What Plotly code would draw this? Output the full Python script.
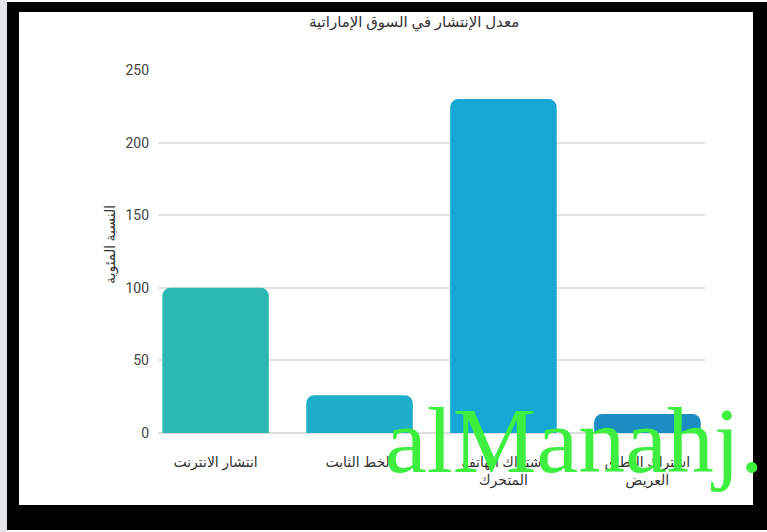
import plotly.graph_objects as go

# Data
categories = ["انتشار الانترنت", "الخط الثابت", "اشتراك الهاتف المتحرك", "اشتراك النطاق العريض"]
tick_labels = ["انتشار الانترنت", "الخط الثابت", "اشتراك الهاتف<br>المتحرك", "اشتراك النطاق<br>العريض"]
values = [100, 26, 230, 13]
y_ticks = [0, 50, 100, 150, 200, 250]
bar_colors = ["#2cb8b2", "#1eadcb", "#17a7d4", "#1a8ec3"]

title_text = "معدل الإنتشار في السوق الإماراتية"
y_title = "النسبة المئوية"
watermark = "alManahj."

W, H = 767, 532
L, R, T, B = 158, 705, 70, 433  # plot area in pixels

def px(x):
    return (x - L) / (R - L)

def py(y):
    return (B - y) / (B - T)

fig = go.Figure(go.Bar(
    x=categories, y=values,
    marker=dict(color=bar_colors, cornerradius=8, line=dict(width=0)),
    width=0.74,
))

shapes = []
# black frame
for x0, y0, x1, y1 in [(7, 2, 767, 12), (7, 505, 767, 530), (7, 2, 19, 530), (753, 2, 767, 530)]:
    shapes.append(dict(type="rect", xref="paper", yref="paper", layer="above",
                       x0=px(x0), x1=px(x1), y0=py(y0), y1=py(y1),
                       fillcolor="black", line=dict(width=0)))
# light gray strip left of frame
shapes.append(dict(type="rect", xref="paper", yref="paper", layer="below",
                   x0=px(0), x1=px(7), y0=py(0), y1=py(532),
                   fillcolor="#e4e4e6", line=dict(width=0)))

fig.update_layout(
    width=W, height=H,
    margin=dict(l=L, r=W - R, t=T, b=H - B, pad=0, autoexpand=False),
    paper_bgcolor="white", plot_bgcolor="white",
    showlegend=False,
    font=dict(family="Roboto, DejaVu Sans, sans-serif", color="#444444", size=14),
    xaxis=dict(range=[-0.4, 3.4], tickmode="array", tickvals=categories, ticktext=tick_labels,
               showgrid=False, showline=False, zeroline=False, ticks="", automargin=False,
               ticklabelstandoff=19,
               tickfont=dict(size=14, color="#333333")),
    yaxis=dict(range=[0, 250], tickvals=y_ticks, showgrid=True, gridcolor="#e4e4e4",
               gridwidth=1.5, zeroline=True, zerolinecolor="#dddddd", zerolinewidth=1.5,
               showline=False, ticks="", ticklabelstandoff=8, automargin=False,
               tickfont=dict(size=14, color="#444444")),
    bargap=0.26,
    shapes=shapes,
    annotations=[
        dict(text=title_text, xref="paper", yref="paper", x=px(414), y=py(22),
             showarrow=False, xanchor="center", yanchor="middle",
             font=dict(size=15, color="#333333")),
        dict(text=y_title, xref="paper", yref="paper", x=px(110), y=py(245),
             showarrow=False, xanchor="center", yanchor="middle", textangle=-90,
             font=dict(size=14, color="#333333")),
        dict(text=watermark, xref="paper", yref="paper", x=px(383), y=py(494),
             showarrow=False, xanchor="left", yanchor="bottom",
             font=dict(family="Liberation Serif, serif", size=94, color="#3fef3f")),
    ],
)

fig.write_html("out.html", config={"displayModeBar": False},
               post_script="document.body.style.margin='0';document.body.style.padding='0';")
